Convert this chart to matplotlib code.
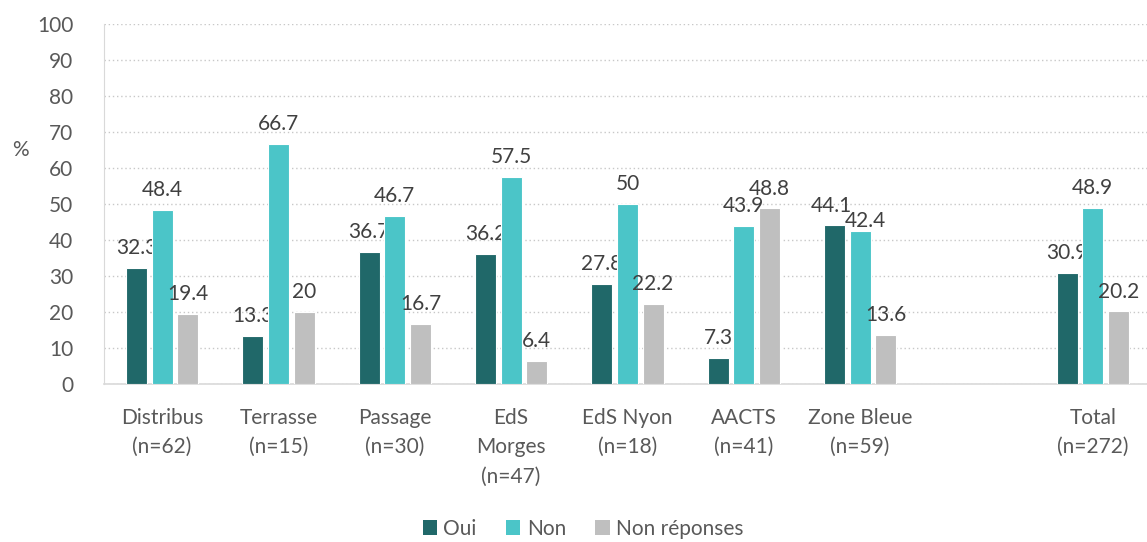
import numpy as np
import matplotlib
matplotlib.use("Agg")
from matplotlib import pyplot as plt
from matplotlib.patches import Patch

plt.rcParams['font.family'] = ['Lato', 'DejaVu Sans']

# data
categories = ["Distribus\n(n=62)", "Terrasse\n(n=15)", "Passage\n(n=30)",
              "EdS\nMorges\n(n=47)", "EdS Nyon\n(n=18)", "AACTS\n(n=41)",
              "Zone Bleue\n(n=59)", "", "Total\n(n=272)"]
oui = [32.3, 13.3, 36.7, 36.2, 27.8, 7.3, 44.1, None, 30.9]
non = [48.4, 66.7, 46.7, 57.5, 50, 43.9, 42.4, None, 48.9]
non_rep = [19.4, 20, 16.7, 6.4, 22.2, 48.8, 13.6, None, 20.2]
series_names = ["Oui", "Non", "Non réponses"]
colors = ["#206869", "#4BC5C8", "#BFBFBF"]
text_col = "#595959"
fs = 15

W, H = 1147, 542
fig = plt.figure(figsize=(W / 100, H / 100), dpi=100)
ax = fig.add_axes([104 / W, 158 / H, 1047 / W, 360 / H])

x = np.arange(len(categories))
bw = 0.18
step = 0.22
for i, (vals, col) in enumerate(zip([oui, non, non_rep], colors)):
    xs = [xi + (i - 1) * step for xi, v in zip(x, vals) if v is not None]
    vs = [v for v in vals if v is not None]
    bars = ax.bar(xs, vs, width=bw, color=col, edgecolor="white", linewidth=0.8, zorder=3)
    for j, (b, v) in enumerate(zip(bars, vs)):
        dx, dy = 0, 7
        # Excel nudged the crowded Zone Bleue labels
        if j == 6 and i == 1:
            dx, dy = 4, 0
        if j == 6 and i == 0:
            dx = -2
        ax.annotate("%g" % v, (b.get_x() + b.get_width() / 2, v), xytext=(dx, dy),
                    textcoords="offset points", ha="center", va="bottom",
                    fontsize=fs, color="#404040")

ax.set_xlim(-0.5, len(categories) - 0.5)
ax.set_ylim(0, 100)
ax.set_yticks(np.arange(0, 101, 10))
ax.yaxis.grid(True, linestyle=(0, (1, 2)), color="#C8C8C8", linewidth=1, zorder=0)
ax.tick_params(axis="y", length=0, labelsize=fs, labelcolor=text_col, pad=22)
ax.set_xticks(x)
ax.set_xticklabels(categories, fontsize=fs, color=text_col, linespacing=1.6)
ax.tick_params(axis="x", length=0, pad=17)
for s in ["top", "right"]:
    ax.spines[s].set_visible(False)
ax.spines["left"].set_color("#D9D9D9")
ax.spines["bottom"].set_color("#D9D9D9")
ax.spines["bottom"].set_linewidth(1.2)

fig.text(20 / W, 1 - 150 / H, "%", fontsize=fs, color=text_col, ha="center", va="center")

handles = [Patch(facecolor=c, edgecolor="none") for c in colors]
fig.legend(handles, series_names, loc="center", bbox_to_anchor=(583 / W, 1 - 529 / H),
           ncol=3, frameon=False, fontsize=fs, labelcolor=text_col,
           handlelength=0.7, handleheight=0.7, handletextpad=0.3, columnspacing=1.4)

fig.savefig("out.png", dpi=100)
